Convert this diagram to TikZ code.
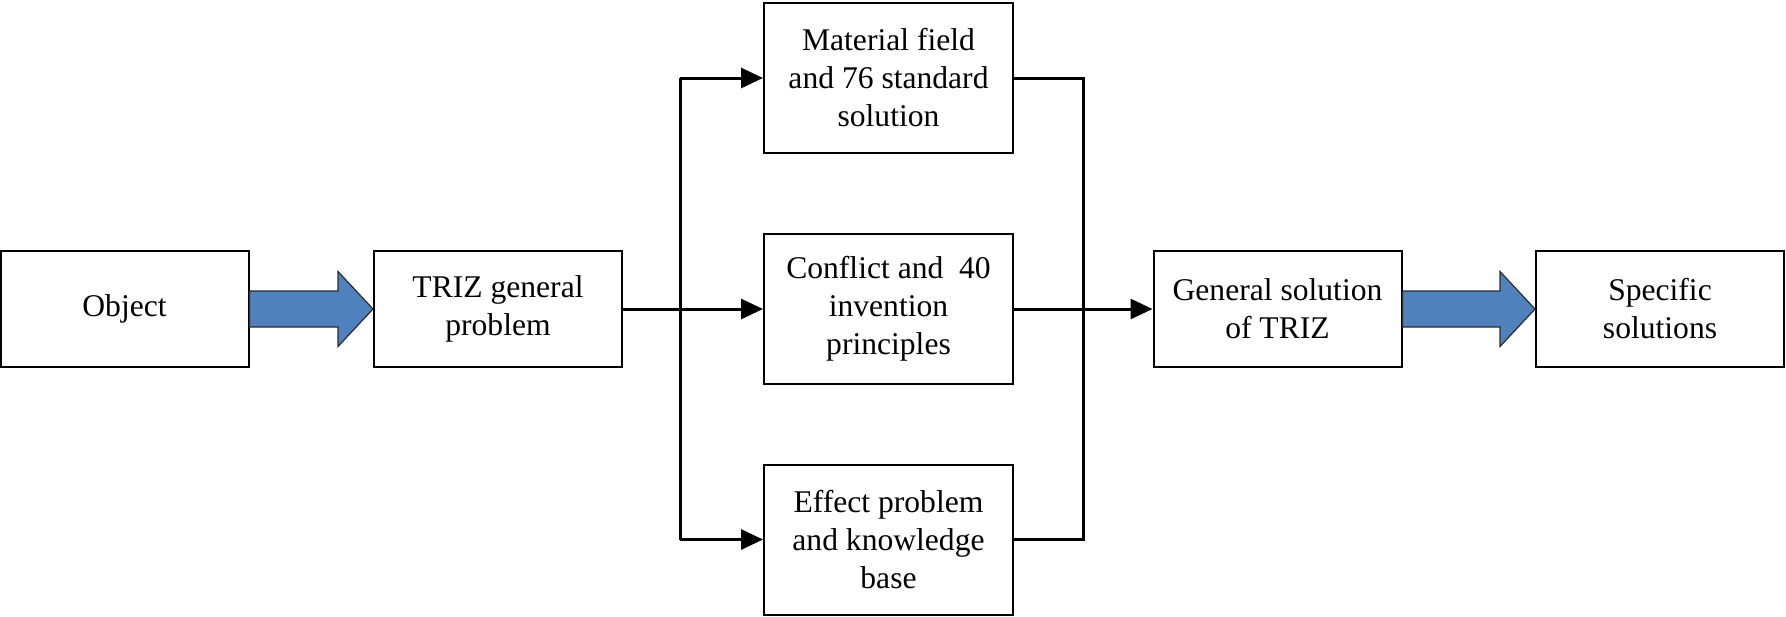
\documentclass[tikz,border=0pt]{standalone}
\usepackage{fontspec}
\setmainfont{Liberation Serif}
\usetikzlibrary{arrows.meta,calc}
\definecolor{arrowblue}{HTML}{4F81BD}
\definecolor{arrowedge}{HTML}{2B2B2B}
\begin{document}
\begin{tikzpicture}[x=0.5pt,y=-0.5pt,
  box/.style={draw=black,line width=1pt,fill=white,align=center,inner sep=0pt,
    font=\fontsize{15.8pt}{19pt}\selectfont},
  smallbox/.style={box,minimum width=124pt,minimum height=58pt},
  tallbox/.style={box,minimum width=124.5pt,minimum height=75pt},
  link/.style={line width=1.5pt},
  arr/.style={line width=1.5pt,-{Triangle[length=11pt,width=10pt]}},
  fatarrow/.style={fill=arrowblue,draw=arrowedge,line width=0.6pt,line join=miter}]
\useasboundingbox (0,0) rectangle (1786,616);

\node[smallbox] (obj)  at (124.5,309) {Object};
\node[smallbox] (triz) at (498,309)   {TRIZ general\\problem};
\node[tallbox]  (top)  at (888.5,78)  {Material field\\and 76 standard\\solution};
\node[tallbox]  (mid)  at (888.5,309) {Conflict and \ 40\\invention\\principles};
\node[tallbox]  (bot)  at (888.5,539.5) {Effect problem\\and knowledge\\base};
\node[smallbox] (gen)  at (1277.5,309) {General solution\\of TRIZ};
\node[smallbox] (spec) at (1660,309)  {Specific\\solutions};

\coordinate (lbus) at (680,0);
\coordinate (rbus) at (1083,0);

% wide blue arrows
\draw[fatarrow] ($(obj.east)+(0,-18)$) -- ($(triz.west)+(-35,-18)$) -- ($(triz.west)+(-35,-37.5)$)
  -- (triz.west) -- ($(triz.west)+(-35,37.5)$) -- ($(triz.west)+(-35,18)$) -- ($(obj.east)+(0,18)$) -- cycle;
\draw[fatarrow] ($(gen.east)+(0,-18)$) -- ($(spec.west)+(-35,-18)$) -- ($(spec.west)+(-35,-37.5)$)
  -- (spec.west) -- ($(spec.west)+(-35,37.5)$) -- ($(spec.west)+(-35,18)$) -- ($(gen.east)+(0,18)$) -- cycle;

% left distribution
\draw[link] (top.west -| lbus) -- (bot.west -| lbus);
\draw[arr] (triz.east) -- (mid.west);
\draw[arr] (top.west -| lbus) -- (top.west);
\draw[arr] (bot.west -| lbus) -- (bot.west);

% right collection
\draw[link] (top.east) -- (top.east -| rbus) -- (bot.east -| rbus) -- (bot.east);
\draw[arr] (mid.east) -- (gen.west);
\end{tikzpicture}
\end{document}
